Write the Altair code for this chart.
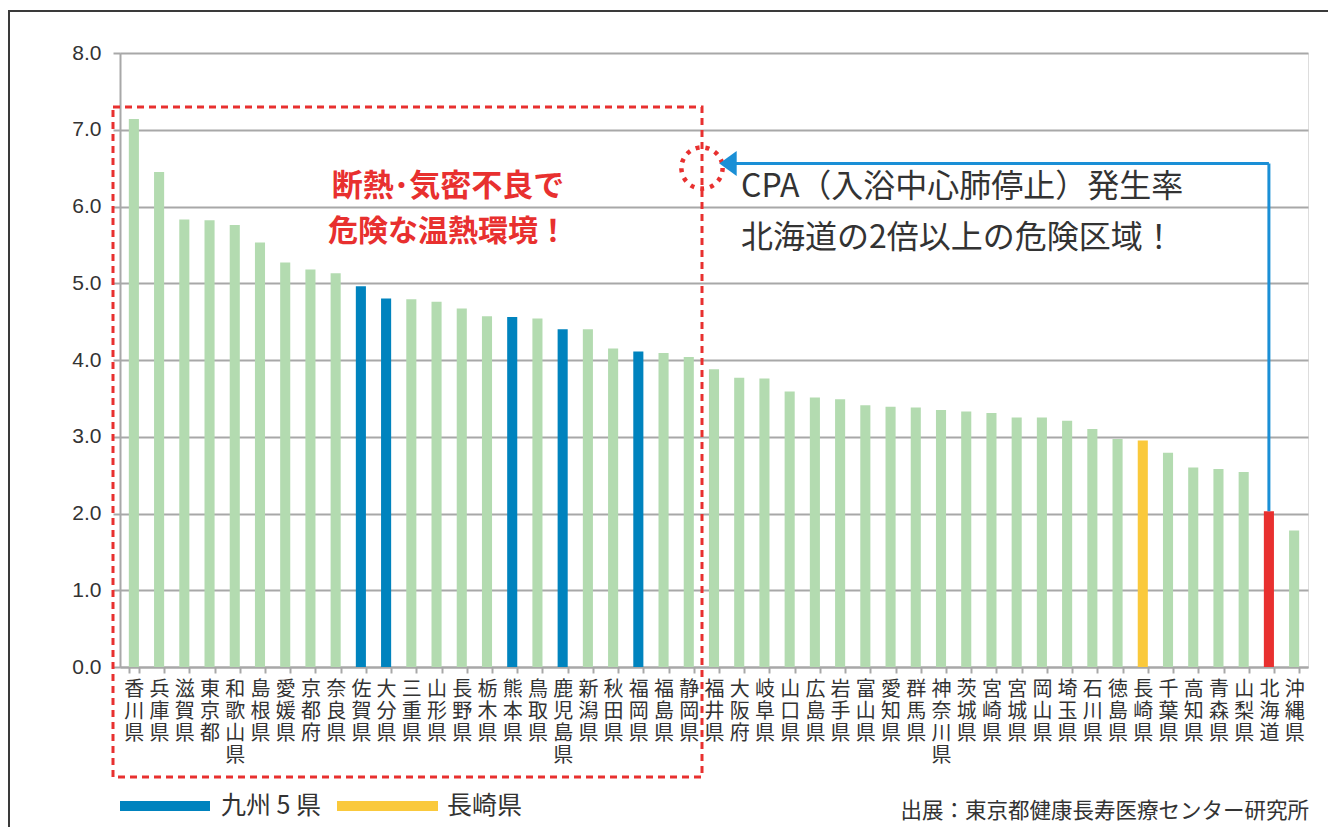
import altair as alt
import pandas as pd

prefs = ["香川県","兵庫県","滋賀県","東京都","和歌山県","島根県","愛媛県","京都府","奈良県","佐賀県",
         "大分県","三重県","山形県","長野県","栃木県","熊本県","鳥取県","鹿児島県","新潟県","秋田県",
         "福岡県","福島県","静岡県","福井県","大阪府","岐阜県","山口県","広島県","岩手県","富山県",
         "愛知県","群馬県","神奈川県","茨城県","宮崎県","宮城県","岡山県","埼玉県","石川県","徳島県",
         "長崎県","千葉県","高知県","青森県","山梨県","北海道","沖縄県"]
values = [7.14, 6.45, 5.83, 5.82, 5.76, 5.53, 5.27, 5.18, 5.13, 4.96,
          4.80, 4.79, 4.76, 4.67, 4.57, 4.56, 4.54, 4.40, 4.40, 4.15,
          4.11, 4.09, 4.04, 3.88, 3.77, 3.76, 3.59, 3.51, 3.49, 3.41,
          3.39, 3.38, 3.35, 3.33, 3.31, 3.25, 3.25, 3.21, 3.10, 2.97,
          2.95, 2.79, 2.60, 2.58, 2.54, 2.03, 1.78]
kyushu5 = ["佐賀県","大分県","熊本県","鹿児島県","福岡県"]
nagasaki = ["長崎県"]
hokkaido = ["北海道"]
y_ticks = [0, 1, 2, 3, 4, 5, 6, 7, 8]

groups = ["kyushu" if p in kyushu5 else "nagasaki" if p in nagasaki else "hokkaido" if p in hokkaido else "other" for p in prefs]
df = pd.DataFrame({"pref": prefs, "value": values, "group": groups})

GREEN = "#b3dbb0"
BLUE = "#0083be"
YELLOW = "#fac93c"
RED = "#e8302f"
ARROW = "#1a8fd6"
GRID = "#a8a8a8"
TXT = "#333333"
JP = "Noto Sans CJK JP"

x_enc = alt.X("pref:N", sort=prefs,
              scale=alt.Scale(paddingInner=0.6, paddingOuter=0.35),
              axis=alt.Axis(title=None, labelAngle=0, labelExpr="split(datum.label, '')",
                            labelFont=JP, labelFontSize=20, labelLineHeight=22, labelColor=TXT,
                            labelBaseline="top", labelPadding=6, labelOverlap=False,
                            tickBand="extent", tickSize=6, tickColor=GRID, tickWidth=2,
                            domainColor=GRID, domainWidth=2, grid=False))
y_enc = alt.Y("value:Q",
              scale=alt.Scale(domain=[0, 8], nice=False),
              axis=alt.Axis(title=None, values=y_ticks, format=".1f", grid=True,
                            gridColor=GRID, gridWidth=2, domainColor=GRID, domainWidth=2,
                            tickColor=GRID, tickSize=7, tickWidth=2,
                            labelFont="Liberation Sans", labelFontSize=21, labelColor=TXT,
                            labelPadding=12))

bars = alt.Chart(df).mark_bar().encode(
    x=x_enc, y=y_enc,
    color=alt.Color("group:N", scale=alt.Scale(domain=["other", "kyushu", "nagasaki", "hokkaido"],
                                               range=[GREEN, BLUE, YELLOW, RED]), legend=None),
)

one = pd.DataFrame({"pref": hokkaido, "value": [2.03], "top": [6.56]})

arrow_v = alt.Chart(one).mark_rule(color=ARROW, strokeWidth=3).encode(
    x=alt.X("pref:N", sort=prefs), y=alt.Y("value:Q"), y2="top:Q")
arrow_h = alt.Chart(one).mark_rule(color=ARROW, strokeWidth=3).encode(
    x=alt.X("pref:N", sort=prefs), x2=alt.value(612), y=alt.Y("top:Q"))
arrow_head = alt.Chart(one).mark_point(shape="M-1,0L1,-1.45L1,1.45Z", filled=True, opacity=1,
                                       color=ARROW, size=300).encode(
    x=alt.value(608), y=alt.Y("top:Q"))

frame = alt.Chart(one).mark_rect(fillOpacity=0, stroke="#3a3a3a", strokeWidth=2).encode(
    x=alt.value(-111), x2=alt.value(1400), y=alt.value(-42), y2=alt.value(900))
redbox = alt.Chart(one).mark_rect(fillOpacity=0, stroke=RED, strokeWidth=3, strokeDash=[7, 5]).encode(
    x=alt.value(-7), x2=alt.value(582), y=alt.value(54), y2=alt.value(724))
circle = alt.Chart(one).mark_point(shape="circle", size=1700, filled=False, color=RED,
                                   strokeWidth=4.5, strokeDash=[4, 6], opacity=1).encode(
    x=alt.value(582), y=alt.value(115))

def txt(s, x, y, size, color=TXT, weight="normal", align="left", font=JP):
    return alt.Chart(one).mark_text(text=s, font=font, fontSize=size, fontWeight=weight, color=color,
                                    align=align, baseline="middle").encode(x=alt.value(x), y=alt.value(y))

texts = [
    txt("断熱･気密不良で", 328, 134, 31, RED, "bold", "center"),
    txt("危険な温熱環境！", 328, 179, 30, RED, "bold", "center"),
    txt("CPA（入浴中心肺停止）発生率", 621, 134, 32),
    txt("北海道の2倍以上の危険区域！", 621, 185, 32),
    txt("九州 5 県", 101, 753, 25),
    txt("長崎県", 327, 753, 25),
    txt("出展：東京都健康長寿医療センター研究所", 1189, 759, 21.5, align="right"),
]

leg_blue = alt.Chart(one).mark_rule(color=BLUE, strokeWidth=10).encode(
    x=alt.value(0), x2=alt.value(90), y=alt.value(753))
leg_yellow = alt.Chart(one).mark_rule(color=YELLOW, strokeWidth=10).encode(
    x=alt.value(217), x2=alt.value(318), y=alt.value(753))

chart = alt.layer(frame, bars, redbox, circle, arrow_v, arrow_h, arrow_head,
                  leg_blue, leg_yellow, *texts).properties(
    width=1188, height=614,
    padding={"left": 112, "top": 45, "right": 20, "bottom": 160},
    autosize=alt.AutoSizeParams(type="none"),
).configure_view(strokeWidth=0).configure(background="white")

chart.save("out.html", embed_options={"renderer": "svg", "actions": False})
